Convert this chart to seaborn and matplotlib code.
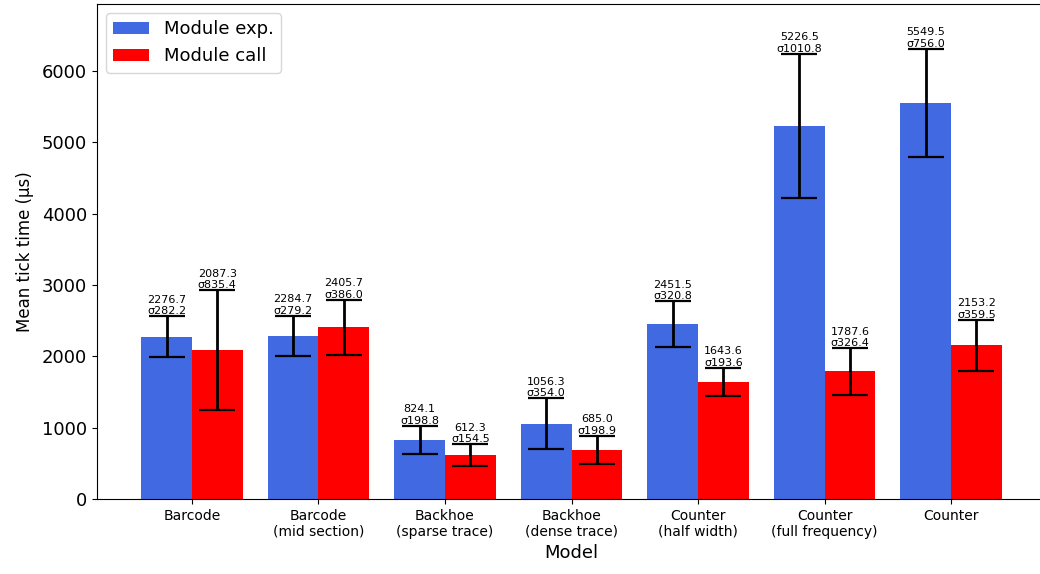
import matplotlib
matplotlib.use("Agg")
import matplotlib.pyplot as plt
import seaborn as sns
import pandas as pd

models = [
    "Barcode",
    "Barcode\n(mid section)",
    "Backhoe\n(sparse trace)",
    "Backhoe\n(dense trace)",
    "Counter\n(half width)",
    "Counter\n(full frequency)",
    "Counter",
]
model_keys = [f"m{i}" for i in range(len(models))]

series_names = ["Module exp.", "Module call"]
exp_mean = [2276.7, 2284.7, 824.1, 1056.3, 2451.5, 5226.5, 5549.5]
exp_std = [282.2, 279.2, 198.8, 354.0, 320.8, 1010.8, 756.0]
call_mean = [2087.3, 2405.7, 612.3, 685.0, 1643.6, 1787.6, 2153.2]
call_std = [835.4, 386.0, 154.5, 198.9, 193.6, 326.4, 359.5]

colors = ["royalblue", "red"]

df = pd.DataFrame({
    "model": model_keys * 2,
    "kind": [series_names[0]] * len(models) + [series_names[1]] * len(models),
    "mean": exp_mean + call_mean,
    "std": exp_std + call_std,
})

fig = plt.figure(figsize=(10.4, 5.74), dpi=100)
ax = fig.add_axes([97 / 1040, 75 / 574, (1046 - 97) / 1040, (499 - 4) / 574])

sns.barplot(data=df, x="model", y="mean", hue="kind", order=model_keys,
            hue_order=series_names, palette=colors, saturation=1,
            errorbar=None, width=0.8, ax=ax)

for container, means, stds in zip(ax.containers, [exp_mean, call_mean], [exp_std, call_std]):
    xs = [p.get_x() + p.get_width() / 2 for p in container.patches]
    ax.errorbar(xs, means, yerr=stds, fmt="none", ecolor="black",
                elinewidth=2, capsize=13, capthick=1.6, zorder=3)
    for x, m, s in zip(xs, means, stds):
        ax.text(x, m + s, f"{m:.1f}\n\u03c3{s:.1f}", ha="center", va="bottom",
                fontsize=8)

top = max(max(m + s for m, s in zip(exp_mean, exp_std)),
          max(m + s for m, s in zip(call_mean, call_std)))
ax.set_ylim(0, top * 1.1)
ax.set_xlim(-0.75, len(models) - 0.25)
ax.set_xticks(range(len(models)))
ax.set_xticklabels(models, fontsize=10)
ax.tick_params(axis="y", labelsize=13)
ax.set_xlabel("Model", fontsize=13)
ax.set_ylabel("Mean tick time (\u00b5s)", fontsize=12, labelpad=6)
ax.legend(loc="upper left", fontsize=13, title=None)

fig.savefig("out.png", dpi=100)
